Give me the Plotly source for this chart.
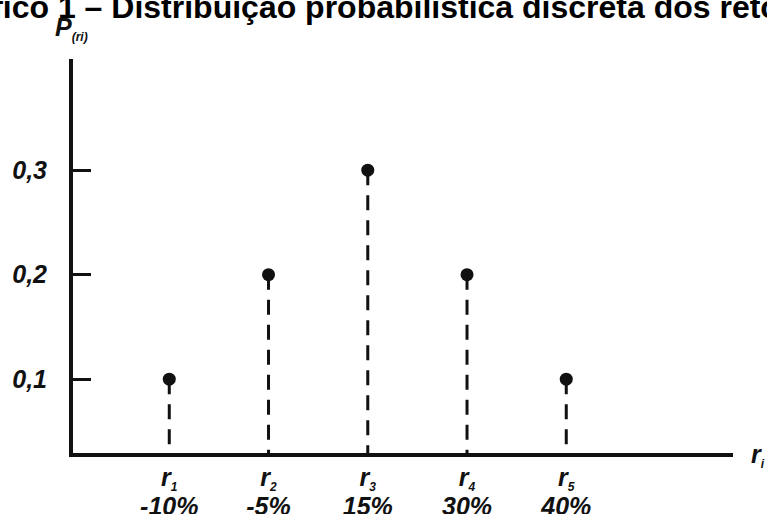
import plotly.graph_objects as go

# Data
categories = ["r<sub>1</sub>", "r<sub>2</sub>", "r<sub>3</sub>", "r<sub>4</sub>", "r<sub>5</sub>"]
returns_pct = ["-10%", "-5%", "15%", "30%", "40%"]
probabilities = [0.1, 0.2, 0.3, 0.2, 0.1]
y_tick_vals = [0.1, 0.2, 0.3]
y_tick_text = ["0,1", "0,2", "0,3"]
title_text = "Gráfico 1 – Distribuição probabilística discreta dos retornos"

FONT = "Liberation Sans, Arial, sans-serif"
INK = "#111111"

xs = list(range(1, len(probabilities) + 1))

# stems from 0 up to each probability
stem_x, stem_y = [], []
for x, p in zip(xs, probabilities):
    stem_x += [x, x, None]
    stem_y += [p, 0, None]

fig = go.Figure()
fig.add_trace(go.Scatter(
    x=stem_x, y=stem_y, mode="lines",
    line=dict(color=INK, width=3, dash="15px,10px"),
    hoverinfo="skip", showlegend=False,
))
fig.add_trace(go.Scatter(
    x=xs, y=probabilities, mode="markers",
    marker=dict(color=INK, size=13),
    showlegend=False, cliponaxis=False,
))

SUB = '<span style="font-size:12px">{}</span>'
BIG = '<span style="font-size:25px">{}</span>'
xt = []
for c, r in zip(categories, returns_pct):
    base, num = c.replace("</sub>", "").split("<sub>")
    xt.append(f"<b><i>{BIG.format(base)}<sub>{SUB.format(num)}</sub><br>{BIG.format(r)}</i></b>")
yt = [f"<b><i>{t}</i></b>" for t in y_tick_text]

fig.update_layout(
    width=767, height=514,
    margin=dict(l=73, r=34, t=59, b=61),
    plot_bgcolor="white", paper_bgcolor="white",
    font=dict(family=FONT, color=INK),
    xaxis=dict(
        range=[0.03, 6.68], showgrid=False, zeroline=False, automargin=False,
        showline=True, linecolor=INK, linewidth=4,
        tickvals=xs, ticktext=xt, ticks="",
        tickfont=dict(size=22, family=FONT, color=INK),
        ticklabelstandoff=3,
    ),
    yaxis=dict(
        range=[0.0293, 0.4064], showgrid=False, zeroline=False, automargin=False,
        showline=True, linecolor=INK, linewidth=4,
        tickvals=y_tick_vals, ticktext=yt,
        ticks="inside", ticklen=18, tickwidth=3, tickcolor=INK,
        tickfont=dict(size=25, family=FONT, color=INK),
        ticklabelstandoff=17,
    ),
    annotations=[
        dict(text=f"<b>{title_text}</b>", xref="paper", yref="paper",
             x=0, y=1.0, xanchor="left", yanchor="bottom",
             xshift=-138, yshift=32, showarrow=False,
             font=dict(size=32, family=FONT, color="black")),
        dict(text="<b><i>P<sub>" + SUB.format("(ri)") + "</sub></i></b>",
             xref="paper", yref="paper",
             x=0, y=1.0, xanchor="left", yanchor="bottom",
             xshift=-20, yshift=13,
             showarrow=False, font=dict(size=25, family=FONT, color=INK)),
        dict(text="<b><i>r<sub>" + SUB.format("i") + "</sub></i></b>",
             xref="paper", yref="paper",
             x=1.024, y=0, xanchor="left", yanchor="middle", yshift=-2,
             showarrow=False, font=dict(size=25, family=FONT, color=INK)),
    ],
)

fig.write_html(
    "out.html",
    config={"displayModeBar": False},
    post_script="document.body.style.margin='0';document.body.style.overflow='hidden';",
)
